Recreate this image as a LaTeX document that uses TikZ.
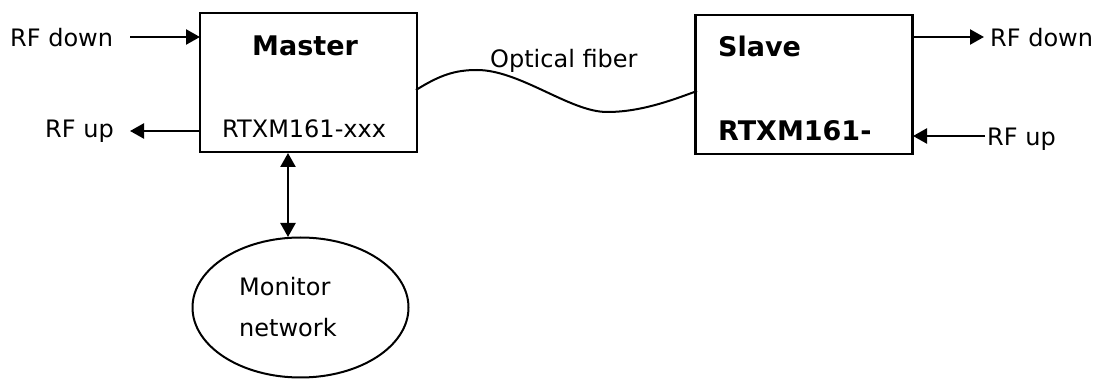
\documentclass[tikz,border=0pt]{standalone}
\usepackage{fontspec}
\setmainfont{DejaVu Sans}
\usetikzlibrary{arrows.meta,shapes.geometric}
\begin{document}
\begin{tikzpicture}[x=1pt,y=-1pt,
  box/.style={draw,line width=2.4pt,minimum width=217pt,minimum height=139pt,inner sep=0pt},
  lbl/.style={font=\fontsize{24}{28}\selectfont,inner sep=0pt,anchor=base west},
  blbl/.style={font=\fontsize{27}{31}\selectfont\bfseries,inner sep=0pt,anchor=base west},
  arr/.style={line width=2.4pt,-{Triangle[length=14pt,width=15pt]}},
  darr/.style={line width=2.4pt,{Triangle[length=14pt,width=15pt]}-{Triangle[length=14pt,width=15pt]}}]
\useasboundingbox (0,0) rectangle (1096,379);
% boxes
\node[box] (master) at (308.5,82.5) {};
\node[box] (slave) at (804,84.5) {};
\node[draw,ellipse,line width=2pt,minimum width=216pt,minimum height=140pt,inner sep=0pt] (mon) at (300.5,307.5) {};
% texts
\node[blbl] (tm) at (252,56) {Master};
\node[lbl] (tmx) at (222,138) {RTXM161-xxx};
\node[blbl] (ts) at (718,57) {Slave};
\node[blbl] (tsx) at (718,141) {RTXM161-};
\node[lbl] (rfdl) at (10,47) {RF down};
\node[lbl] (rful) at (45,138) {RF up};
\node[lbl] (rfdr) at (990,47) {RF down};
\node[lbl] (rfur) at (987,146) {RF up};
\node[lbl] (of) at (490,68) {Optical fiber};
\node[lbl] (tmon1) at (239,296) {Monitor};
\node[lbl] (tmon2) at (239,337) {network};
% coordinates
\coordinate (a1) at (130,37);
\coordinate (a1e) at (200,37);
\coordinate (a2) at (200,131);
\coordinate (a2e) at (130,131);
\coordinate (a3) at (911,37);
\coordinate (a3e) at (984,37);
\coordinate (a4) at (985,136);
\coordinate (a4e) at (913,136);
\coordinate (v1) at (288,153);
\coordinate (v2) at (288,237);
\coordinate (f1) at (416,90);
\coordinate (f2) at (697,91);
% connectors
\draw[arr] (a1) -- (a1e);
\draw[arr] (a2) -- (a2e);
\draw[arr] (a3) -- (a3e);
\draw[arr] (a4) -- (a4e);
\draw[darr] (v1) -- (v2);
\draw[line width=2pt] (f1) .. controls (440,75) and (455,70) .. (477,70)
  .. controls (520,70) and (570,112) .. (607,112)
  .. controls (640,112) and (670,101) .. (f2);
\end{tikzpicture}
\end{document}
